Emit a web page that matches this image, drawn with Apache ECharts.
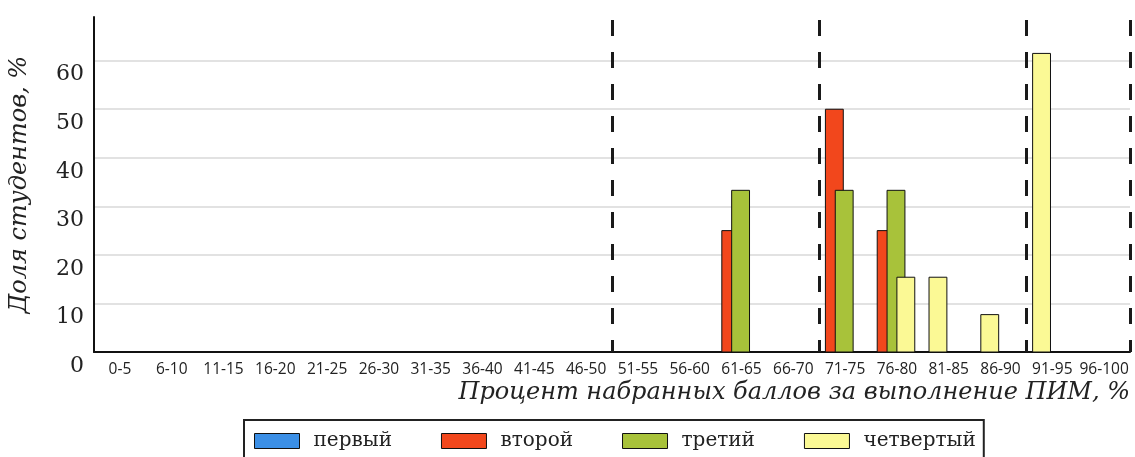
<!DOCTYPE html>
<html>
<head>
<meta charset="utf-8">
<script src="https://cdn.jsdelivr.net/npm/echarts@6/dist/echarts.min.js"></script>
<style>html,body{margin:0;padding:0;background:#fff}#c{width:1135px;height:457px}</style>
</head>
<body>
<div id="c"></div>
<script>
const categories = ['0-5','6-10','11-15','16-20','21-25','26-30','31-35','36-40','41-45','46-50','51-55','56-60','61-65','66-70','71-75','76-80','81-85','86-90','91-95','96-100'];
const seriesNames = ['первый','второй','третий','четвертый'];
const first  = [0,0,0,0,0,0,0,0,0,0,0,0,0,0,0,0,0,0,0,0];
const second = [0,0,0,0,0,0,0,0,0,0,0,0,25,0,50,25,0,0,0,0];
const third  = [0,0,0,0,0,0,0,0,0,0,0,0,33.3,0,33.3,33.3,0,0,0,0];
const fourth = [0,0,0,0,0,0,0,0,0,0,0,0,0,0,0,15.4,15.4,7.7,61.5,0];
const yTicks = [0,10,20,30,40,50,60];
const dashedBoundaries = [10,14,18,20];
const colors = ['#3b8fe6','#f2471c','#a8c23a','#fbf995'];

const allSeries = [first, second, third, fourth];

function makeRender(sIdx) {
  return function (params, api) {
    const ci = api.value(0), v = api.value(1);
    if (!v) return null;
    let rank = 0;
    for (let s = 0; s < sIdx; s++) if (allSeries[s][ci]) rank++;
    const base = api.coord([ci, 0]);
    const top = api.coord([ci, v]);
    const band = api.size([1, 0])[0];
    const x0 = base[0] - band / 2 + band * 0.12 + rank * band * 0.19;
    return {
      type: 'rect',
      shape: { x: x0, y: top[1], width: band * 0.345, height: base[1] - top[1] },
      style: api.style()
    };
  };
}

const chart = echarts.init(document.getElementById('c'), null, { renderer: 'canvas' });
const series = allSeries.map((arr, i) => ({
  name: seriesNames[i],
  type: 'custom',
  renderItem: makeRender(i),
  encode: { x: 0, y: 1 },
  itemStyle: { color: colors[i], borderColor: '#111', borderWidth: 1 },
  data: arr.map((v, k) => [k, v]),
  z: 2 + i
}));
series.push({
  type: 'line',
  xAxisIndex: 1,
  data: [],
  silent: true,
  markLine: {
    symbol: 'none',
    silent: true,
    label: { show: false },
    lineStyle: { color: '#1a1a1a', width: 3, type: [16, 16], dashOffset: 4 },
    data: dashedBoundaries.map(b => ({ xAxis: b }))
  },
  z: 10
});

chart.setOption({
  animation: false,
  grid: { left: 91, right: 5, top: 17, bottom: 105 },
  legend: {
    data: seriesNames,
    left: 244, top: 420,
    padding: [11, 8, 20, 10],
    borderColor: '#222', borderWidth: 2,
    itemWidth: 45, itemHeight: 15, itemGap: 49,
    icon: 'rect',
    itemStyle: { borderColor: '#111', borderWidth: 1 },
    textStyle: { fontFamily: 'DejaVu Serif', fontSize: 20, color: '#222', padding: [0, 0, 0, 9] }
  },
  xAxis: [{
    type: 'category',
    data: categories,
    boundaryGap: true,
    axisLine: { lineStyle: { color: '#111', width: 2 } },
    axisTick: { show: false },
    axisLabel: { interval: 0, fontFamily: '"Open Sans", sans-serif', fontSize: 15.5, color: '#222', margin: 10 },
    splitLine: { show: false },
    name: 'Процент набранных баллов за выполнение ПИМ, %',
    nameLocation: 'end',
    nameGap: 0,
    nameTextStyle: { fontFamily: 'DejaVu Serif', fontStyle: 'italic', fontSize: 24, color: '#222', align: 'right', verticalAlign: 'top', padding: [29, 0, 0, 0] }
  }, {
    type: 'value', min: 0, max: categories.length, show: false
  }],
  yAxis: {
    type: 'value',
    min: 0, max: 69, interval: 10,
    axisLine: { show: true, lineStyle: { color: '#111', width: 2 } },
    axisTick: { show: false },
    axisLabel: { fontFamily: 'DejaVu Serif', fontSize: 22, color: '#222', margin: 10, showMaxLabel: false, verticalAlign: 'top', lineHeight: 28 },
    splitLine: { show: true, showMinLine: false, showMaxLine: false, lineStyle: { color: '#d9d9d9', width: 1.5 } },
    name: 'Доля студентов, %',
    nameLocation: 'middle',
    nameGap: 62,
    nameRotate: 90,
    nameTextStyle: { fontFamily: 'DejaVu Serif', fontStyle: 'italic', fontSize: 24, color: '#222' }
  },
  series: series
});
</script>
</body>
</html>
